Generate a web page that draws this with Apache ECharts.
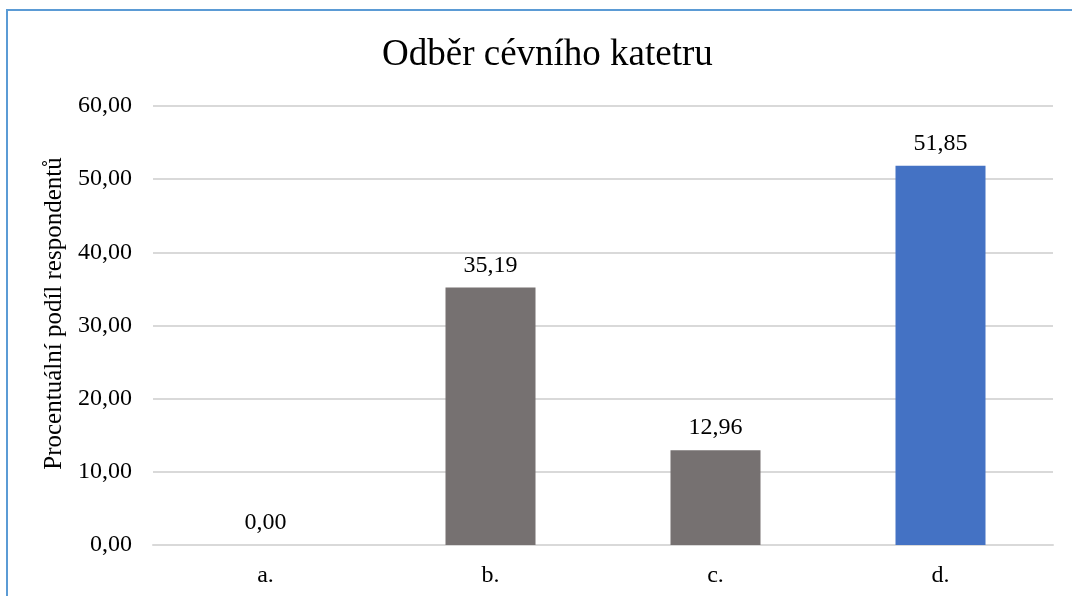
<!DOCTYPE html>
<html>
<head>
<meta charset="utf-8">
<script src="https://cdn.jsdelivr.net/npm/echarts@6/dist/echarts.min.js"></script>
<style>
  html, body { margin: 0; padding: 0; background: #fff; }
  #chart { width: 1072px; height: 596px; }
</style>
</head>
<body>
<div id="chart"></div>
<script>
// Odběr cévního katetru – podíl respondentů podle odpovědi
const categories = ['a.', 'b.', 'c.', 'd.'];
const values = [0.00, 35.19, 12.96, 51.85];
const barColors = ['#767171', '#767171', '#767171', '#4472C4'];
const titleText = 'Odběr cévního katetru';
const yAxisName = 'Procentuální podíl respondentů';

const fmt = v => v.toFixed(2).replace('.', ',');
const serif = '"Liberation Serif", "Times New Roman", serif';

const chart = echarts.init(document.getElementById('chart'), null, { renderer: 'canvas' });

chart.setOption({
  backgroundColor: '#ffffff',
  animation: false,
  graphic: [{
    type: 'rect',
    shape: { x: 7, y: 10, width: 1200, height: 800 },
    style: { fill: 'none', stroke: '#5B9BD5', lineWidth: 2 },
    silent: true
  }],
  title: {
    text: titleText,
    left: 377,
    top: 32,
    textStyle: { fontFamily: serif, fontSize: 37, fontWeight: 'normal', color: '#000' }
  },
  grid: { left: 153, right: 19, top: 106, bottom: 51 },
  xAxis: {
    type: 'category',
    data: categories,
    axisTick: { show: false },
    axisLine: { lineStyle: { color: '#d9d9d9', width: 2 } },
    axisLabel: { fontFamily: serif, fontSize: 24, color: '#000', margin: 19 }
  },
  yAxis: {
    type: 'value',
    min: 0,
    max: 60,
    interval: 10,
    name: yAxisName,
    nameLocation: 'middle',
    nameGap: 82,
    nameTextStyle: { fontFamily: serif, fontSize: 25, color: '#000', padding: [0, 0, 0, 24] },
    axisLine: { show: false },
    axisTick: { show: false },
    splitLine: { lineStyle: { color: '#d9d9d9', width: 2 } },
    axisLabel: { fontFamily: serif, fontSize: 24, color: '#000', margin: 21, formatter: fmt }
  },
  series: [{
    type: 'bar',
    data: values.map((v, i) => ({ value: v, itemStyle: { color: barColors[i] } })),
    barWidth: '40%',
    label: {
      show: true,
      position: 'top',
      distance: 10,
      fontFamily: serif,
      fontSize: 24,
      color: '#000',
      formatter: p => fmt(p.value)
    }
  }]
});
</script>
</body>
</html>
